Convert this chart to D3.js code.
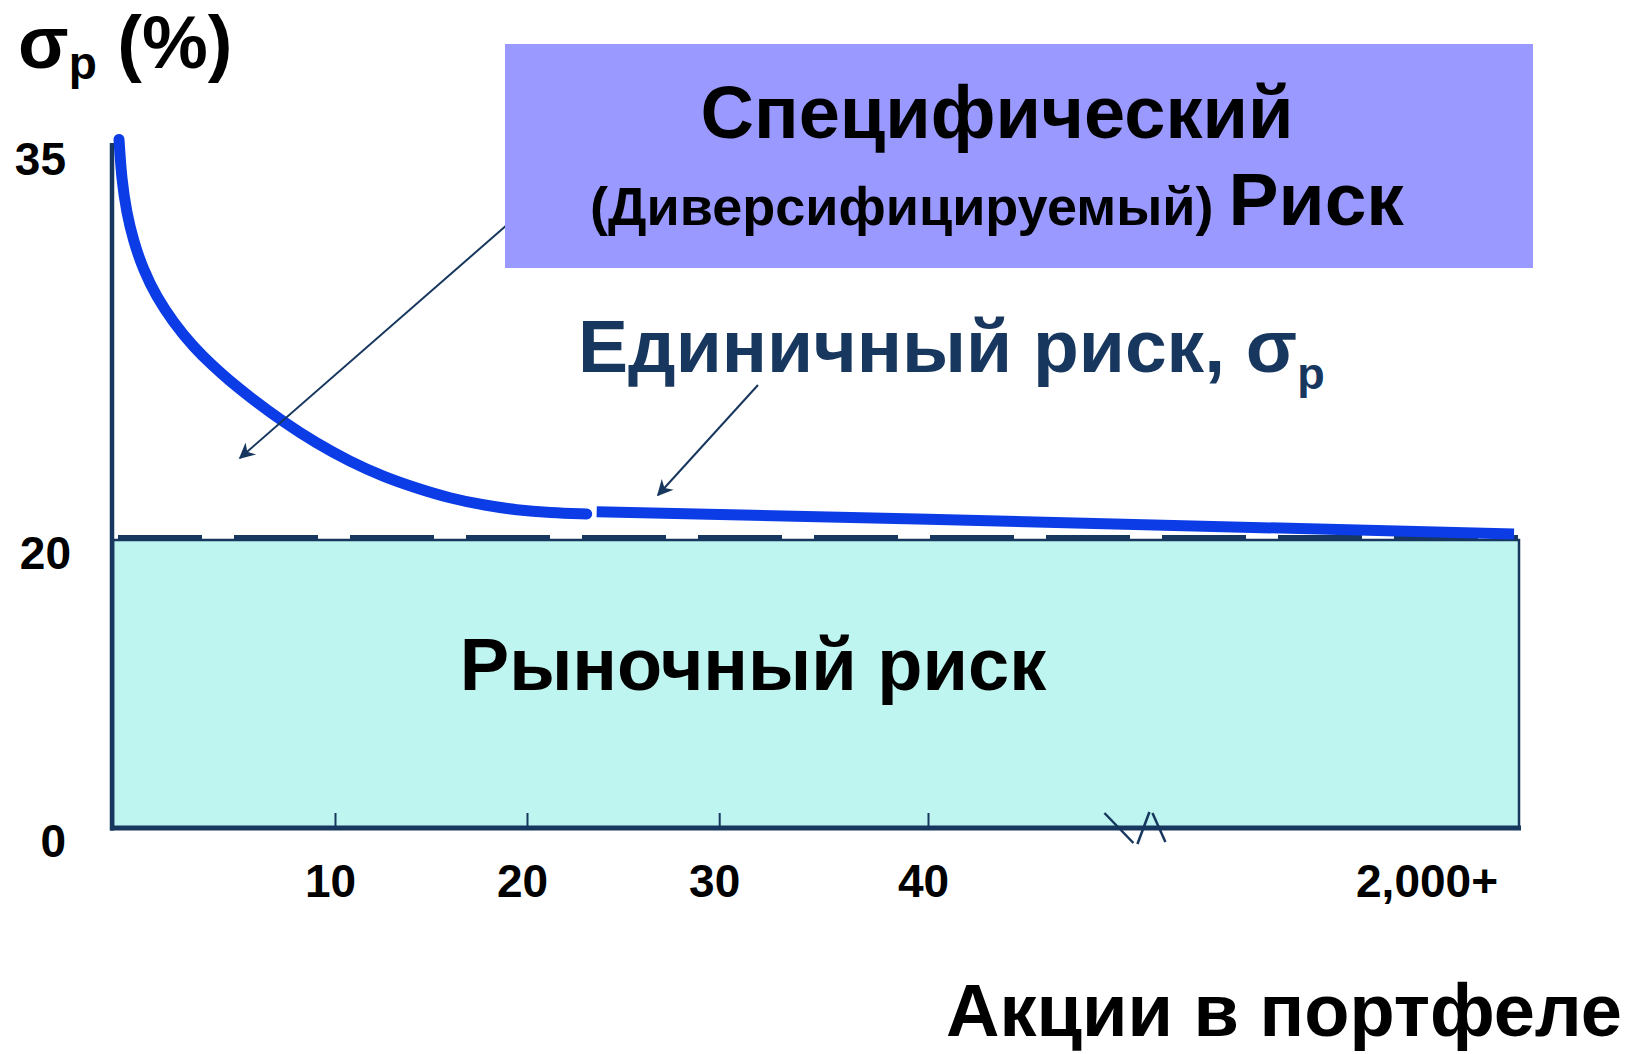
<!DOCTYPE html>
<html>
<head>
<meta charset="utf-8">
<script src="https://cdn.jsdelivr.net/npm/d3@7"></script>
<style>
  html, body { margin: 0; padding: 0; background: #fff; }
  svg text { font-family: "Liberation Sans", Arial, sans-serif; font-weight: bold; }
</style>
</head>
<body>
<svg id="chart" width="1634" height="1054"></svg>
<script>
// Portfolio risk (σp, %) versus number of stocks held
const stockCounts = [1, 1.11, 1.32, 1.59, 2.01, 2.56, 3.25, 4.09, 4.92, 5.61, 6.44, 7.82, 9.21,
                     10.76, 12.49, 14.23, 15.96, 17.7, 19.44, 21.17, 23.08];
const totalRisk   = [35.25, 33.71, 32.45, 31.42, 30.28, 29.26, 28.3, 27.35, 26.61, 26.05, 25.44,
                     24.5, 23.68, 22.98, 22.41, 21.97, 21.59, 21.33, 21.14, 21.04, 20.99];
// Large-portfolio tail of the curve
const tailCounts  = [23.6, 40, 2000];
const tailRisk    = [21.08, 20.79, 20.23];

const marketRisk  = 20;
const yTicks      = [0, 20, 35];
const xTicks      = [10, 20, 30, 40];
const xEndValue   = 2000;
const xEndLabel   = "2,000+";

const navy = "#17375e";
const curveBlue = "#0b3ce6";

const svg = d3.select("#chart");

// Schematic (piecewise) scales, with an axis break between 40 and 2,000
const x = d3.scaleLinear()
  .domain([0, 1, 10, 20, 30, 40, xEndValue])
  .range([113, 119, 335.5, 527.5, 719.7, 928.5, 1514]);
const y = d3.scaleLinear()
  .domain([0, 20, 35])
  .range([828, 540, 146]);

const x0 = x(0), xEnd = x(xEndValue);

// Market (systematic) risk band
svg.append("rect")
  .attr("x", x0).attr("y", y(marketRisk))
  .attr("width", xEnd + 5 - x0).attr("height", y(0) - y(marketRisk))
  .attr("fill", "#bef5f1")
  .attr("stroke", navy).attr("stroke-width", 2.5);

// Dashed market-risk level
svg.append("line")
  .attr("x1", x0 + 5).attr("x2", xEnd + 4)
  .attr("y1", y(marketRisk) - 2.5).attr("y2", y(marketRisk) - 2.5)
  .attr("stroke", navy).attr("stroke-width", 5)
  .attr("stroke-dasharray", "84 32");

// Axes
svg.append("line")
  .attr("x1", 112).attr("x2", 112)
  .attr("y1", y(35) - 3).attr("y2", y(0) + 2.5)
  .attr("stroke", navy).attr("stroke-width", 4.5);
svg.append("line")
  .attr("x1", 110).attr("x2", xEnd + 7)
  .attr("y1", y(0)).attr("y2", y(0))
  .attr("stroke", navy).attr("stroke-width", 5);

// X ticks (pointing up into the band)
svg.selectAll(".xtick").data(xTicks).join("line")
  .attr("class", "xtick")
  .attr("x1", d => x(d)).attr("x2", d => x(d))
  .attr("y1", y(0) - 15).attr("y2", y(0))
  .attr("stroke", navy).attr("stroke-width", 2);

svg.selectAll(".xlabel").data(xTicks).join("text")
  .attr("class", "xlabel")
  .attr("x", d => x(d) - 5).attr("y", y(0) + 69)
  .attr("text-anchor", "middle")
  .attr("font-size", 46).attr("fill", "#000")
  .text(d => d);

svg.append("text")
  .attr("x", xEnd - 16).attr("y", y(0) + 69)
  .attr("text-anchor", "end")
  .attr("font-size", 46).attr("fill", "#000")
  .text(xEndLabel);

// Axis break marker
const breakX = x(40) + 0.35 * (xEnd - x(40));
const breakLines = [[-29, -15, 0, 15], [4, 16, 16, -16], [19, -15, 32, 14]];
svg.selectAll(".brk").data(breakLines).join("line")
  .attr("class", "brk")
  .attr("x1", d => breakX + d[0]).attr("y1", d => y(0) + d[1])
  .attr("x2", d => breakX + d[2]).attr("y2", d => y(0) + d[3])
  .attr("stroke", navy).attr("stroke-width", 2.5);

// Y labels
svg.selectAll(".ylabel").data(yTicks).join("text")
  .attr("class", "ylabel")
  .attr("x", d => d === 20 ? 71 : 66).attr("y", d => y(d) + 29)
  .attr("text-anchor", "end")
  .attr("font-size", 46).attr("fill", "#000")
  .text(d => d);

// Total risk curve
const line = d3.line()
  .x(d => x(d[0])).y(d => y(d[1]))
  .curve(d3.curveBasis);

svg.append("path")
  .datum(d3.zip(stockCounts, totalRisk))
  .attr("d", line)
  .attr("fill", "none").attr("stroke", curveBlue)
  .attr("stroke-width", 11).attr("stroke-linecap", "round");

svg.append("path")
  .datum(d3.zip(tailCounts, tailRisk))
  .attr("d", d3.line().x(d => x(d[0])).y(d => y(d[1])))
  .attr("fill", "none").attr("stroke", curveBlue)
  .attr("stroke-width", 11).attr("stroke-linecap", "butt");

// Arrows
const defs = svg.append("defs");
defs.append("marker")
  .attr("id", "head")
  .attr("viewBox", "0 0 10 10")
  .attr("refX", 9).attr("refY", 5)
  .attr("markerWidth", 10).attr("markerHeight", 8)
  .attr("markerUnits", "strokeWidth")
  .attr("orient", "auto")
  .append("path")
  .attr("d", "M0,0 L10,5 L0,10 L3,5 Z")
  .attr("fill", navy);

svg.append("line")
  .attr("x1", 508).attr("y1", 224).attr("x2", 240).attr("y2", 458)
  .attr("stroke", navy).attr("stroke-width", 2)
  .attr("marker-end", "url(#head)");
svg.append("line")
  .attr("x1", 758).attr("y1", 385).attr("x2", 658).attr("y2", 495)
  .attr("stroke", navy).attr("stroke-width", 2)
  .attr("marker-end", "url(#head)");

// Specific (diversifiable) risk box
svg.append("rect")
  .attr("x", 505).attr("y", 44).attr("width", 1028).attr("height", 224)
  .attr("fill", "#9999ff");

svg.append("text")
  .attr("x", 997).attr("y", 138)
  .attr("text-anchor", "middle").attr("font-size", 74).attr("fill", "#000")
  .text("Специфический");

const t2 = svg.append("text")
  .attr("x", 997).attr("y", 225)
  .attr("text-anchor", "middle").attr("fill", "#000");
t2.append("tspan").attr("font-size", 54).text("(Диверсифицируемый) ");
t2.append("tspan").attr("font-size", 75).text("Риск");

// Total risk label
const t3 = svg.append("text")
  .attr("x", 578).attr("y", 372)
  .attr("font-size", 75).attr("fill", navy);
t3.append("tspan").text("Единичный риск, σ");
t3.append("tspan").attr("font-size", 45).attr("dy", 17).text("p");

// Market risk label
svg.append("text")
  .attr("x", 753).attr("y", 690)
  .attr("text-anchor", "middle").attr("font-size", 74).attr("fill", "#000")
  .text("Рыночный риск");

// Axis titles
const t4 = svg.append("text")
  .attr("x", 18).attr("y", 68)
  .attr("font-size", 74).attr("fill", "#000");
t4.append("tspan").text("σ");
t4.append("tspan").attr("font-size", 46).attr("dy", 11).text("p");
t4.append("tspan").attr("dy", -11).text(" (%)");

svg.append("text")
  .attr("x", 1622).attr("y", 1036)
  .attr("text-anchor", "end").attr("font-size", 74).attr("fill", "#000")
  .text("Акции в портфеле");
</script>
</body>
</html>
